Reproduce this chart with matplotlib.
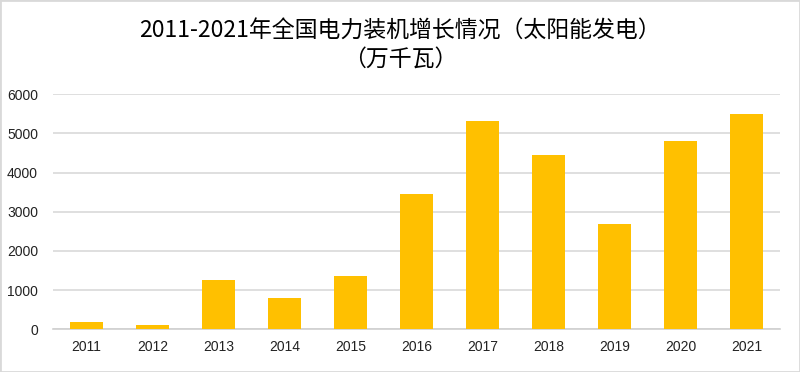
import matplotlib
matplotlib.use("Agg")
from matplotlib import pyplot as plt
from matplotlib.patches import Rectangle

years = ["2011", "2012", "2013", "2014", "2015", "2016",
         "2017", "2018", "2019", "2020", "2021"]
added = [195, 115, 1250, 800, 1370, 3454, 5318, 4458, 2681, 4816, 5497]
yticks = [0, 1000, 2000, 3000, 4000, 5000, 6000]

title = "2011-2021年全国电力装机增长情况（太阳能发电）\n（万千瓦）"

fig = plt.figure(figsize=(8, 3.72), dpi=100)
ax = fig.add_axes([53.3 / 800, 1 - 329.3 / 372, (780 - 53.3) / 800, (329.3 - 94.3) / 372])

x = range(len(years))
ax.bar(x, added, width=0.5, color="#FFC000", zorder=3)
ax.set_xlim(-0.5, len(years) - 0.5)
ax.set_ylim(0, 6000)
ax.set_xticks(list(x))
ax.set_xticklabels(years)
ax.set_yticks(yticks)
ax.grid(axis="y", color="#d9d9d9", linewidth=1.2, zorder=0)
for s in ["top", "right", "left"]:
    ax.spines[s].set_visible(False)
ax.spines["bottom"].set_color("#d0d0d0")
ax.spines["bottom"].set_linewidth(1.2)
ax.tick_params(length=0, labelsize=10, colors="#222222", pad=8)
ax.tick_params(axis="y", pad=11)
for lab in ax.get_xticklabels() + ax.get_yticklabels():
    lab.set_family(["Liberation Sans", "DejaVu Sans"])

fig.text(0.5, 1 - 45 / 372, title, ha="center", va="center", fontsize=16.5,
         family=["Noto Sans CJK SC", "DejaVu Sans"], linespacing=1.25)

# light border around the picture
fig.patches.append(Rectangle((0, 0), 1, 1, transform=fig.transFigure,
                             fill=False, edgecolor="#d9d9d9", linewidth=2))

fig.savefig("out.png", dpi=100)
